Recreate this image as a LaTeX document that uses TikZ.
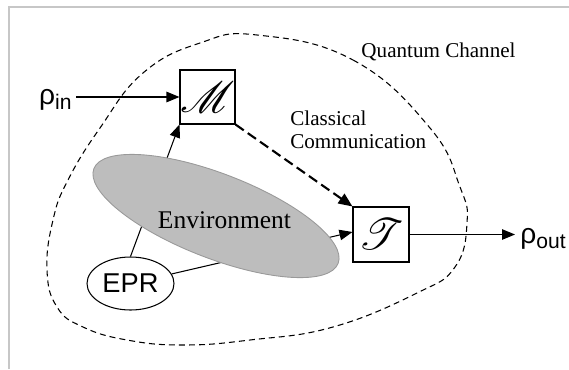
\documentclass[tikz,border=0pt]{standalone}
\usepackage{fontspec}
\setmainfont{Liberation Serif}
\setsansfont{Liberation Sans}
\usepackage{amsmath}
\usepackage{mathrsfs}
\usetikzlibrary{positioning, shapes, arrows.meta}
\newcommand{\rhosub}[1]{{\sffamily\fontsize{16}{18}\selectfont ρ\raisebox{-3.4pt}{\fontsize{12}{14}\selectfont #1}}}
\newcommand{\oplabel}[1]{{\fontsize{24.88}{28}\selectfont$\mathscr{#1}$}}
\tikzset{
  opbox/.style={draw, line width=0.6pt, minimum width=1.1cm, minimum height=1.08cm, inner sep=0pt},
  envblob/.style={ellipse, draw=black!40, fill=black!26, line width=0.5pt, minimum width=5.24cm, minimum height=1.69cm, inner sep=0pt},
  pairnode/.style={ellipse, draw, line width=0.6pt, minimum width=1.74cm, minimum height=1.06cm, inner sep=0pt},
  conn/.style={line width=0.6pt, -{Triangle[length=2.6mm,width=2.1mm]}},
  classic/.style={line width=1.2pt, dash pattern=on 5.7pt off 2.8pt, -{Triangle[length=2.8mm,width=2.3mm]}},
  channel/.style={line width=0.6pt, dash pattern=on 3.4pt off 2.3pt},
  frameline/.style={draw=black!22, line width=0.8pt}}

\begin{document}
\begin{tikzpicture}[font=\fontsize{12}{13}\selectfont]
\useasboundingbox (0,0) rectangle (11.38,7.38);
\draw[frameline] (0.18,0) -- (0.18,7.24) -- (11.38,7.24);

% the quantum channel boundary
\draw[channel] plot[smooth cycle, tension=0.75] coordinates {
  (5.14,6.68) (7.06,6.18) (8.60,4.82) (9.20,3.64) (9.34,2.92) (9.10,2.04)
  (8.34,1.52) (6.66,0.84) (5.00,0.58) (3.66,0.48) (2.54,0.58) (1.66,0.84)
  (1.14,1.24) (0.94,1.98) (1.06,2.98) (1.36,3.78) (2.00,4.82) (2.86,5.92)
  (4.00,6.52)};
\node[anchor=base] (qclabel) at (8.77,6.24) {Quantum Channel};

\node[opbox] (M) at (4.15,5.44) {\oplabel{M}};
\node[opbox, minimum width=1.12cm, minimum height=1.1cm] (T) at (7.62,2.69) {\oplabel{T}};
\node[pairnode] (epr) at (2.61,1.71) {\sffamily\fontsize{15.5}{17}\selectfont EPR};
\node[anchor=base east, inner xsep=0.08cm, inner ysep=0pt] (rhoin) at (1.52,5.30) {\rhosub{in}};
\node[anchor=base west, inner xsep=0.1cm, inner ysep=0pt] (rhoout) at (10.30,2.52) {\rhosub{out}};

% links from the shared pair, partly hidden by the environment
\draw[conn] (epr.north) -- (M.south west);
\draw[conn] (epr) -- ([yshift=0.05cm]T.west);

\node[envblob, rotate=-21.2] (env) at (4.32,3.06) {};
\node (envtext) at (4.49,2.97) {\fontsize{14.5}{16}\selectfont Environment};

\draw[conn] (rhoin.east |- M.west) -- (M.west);
\draw[classic] (M.south east) -- (T.north west);
\draw[conn] (T.east) -- (T.east -| rhoout.west);
\node[anchor=west, align=left, inner sep=0pt] (cclabel) at (5.80,4.79) {Classical\\Communication};
\end{tikzpicture}
\end{document}
